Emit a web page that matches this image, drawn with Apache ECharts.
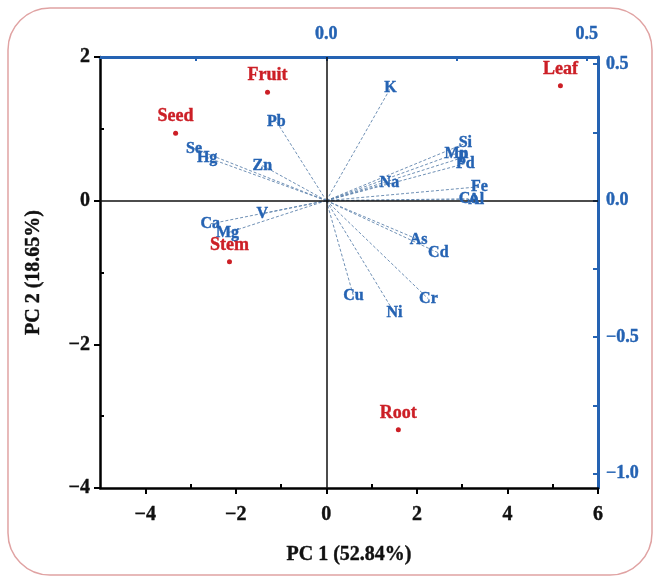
<!DOCTYPE html>
<html>
<head>
<meta charset="utf-8">
<script src="https://cdn.jsdelivr.net/npm/echarts@6/dist/echarts.min.js"></script>
<style>
  html, body { margin: 0; padding: 0; background: #ffffff; }
  #main { width: 656px; height: 579px; }
</style>
</head>
<body>
<div id="main"></div>
<script>
// sample scores (PC1, PC2)
var sampleNames = ['Leaf', 'Fruit', 'Seed', 'Stem', 'Root'];
var samplePC1 = [5.17, -1.30, -3.33, -2.14, 1.59];
var samplePC2 = [1.60, 1.51, 0.94, -0.85, -3.19];

// element loadings (top / right axes)
var elementNames = ['K', 'Pb', 'Se', 'Hg', 'Zn', 'Na', 'Si', 'Mn', 'P', 'Pd', 'Fe', 'Co', 'Al',
                    'V', 'Ca', 'Mg', 'As', 'Cd', 'Cu', 'Ni', 'Cr'];
var loadPC1 = [0.123, -0.096, -0.254, -0.229, -0.123, 0.121, 0.267, 0.250, 0.262, 0.267, 0.294, 0.273, 0.288,
               -0.123, -0.223, -0.190, 0.177, 0.215, 0.052, 0.131, 0.196];
var loadPC2 = [0.412, 0.290, 0.191, 0.158, 0.129, 0.066, 0.210, 0.173, 0.158, 0.136, 0.051, 0.007, 0.004,
               -0.048, -0.085, -0.118, -0.143, -0.191, -0.349, -0.412, -0.360];

// tick labels
var pc1Ticks = [-4, -2, 0, 2, 4, 6];
var pc1Minor = [-3, -1, 1, 3, 5];
var pc2Ticks = [-4, -2, 0, 2];
var pc2Minor = [-3, -1, 1];
var topTicks = [0, 0.5];
var topMinor = [-0.25, 0, 0.25, 0.5];
var rightTicks = [-1, -0.5, 0, 0.5];
var rightMinor = [-1, -0.75, -0.5, -0.25, 0, 0.25, 0.5];

var serif = 'Liberation Serif';
var blue = '#2563b3';
var red = '#cc1f26';

function minus(v) { return String(v).replace('-', '\u2212'); }
function minus1(v) { return minus(Number(v).toFixed(1)); }

var myChart = echarts.init(document.getElementById('main'));

var sampleData = sampleNames.map(function (n, i) {
	return { name: n, value: [samplePC1[i], samplePC2[i]] };
});
var elementData = elementNames.map(function (n, i) {
	return { name: n, value: [loadPC1[i], loadPC2[i]] };
});
var elementLines = elementNames.map(function (n, i) {
	return { coords: [[0, 0], [loadPC1[i], loadPC2[i]]] };
});

var tickFont = { color: '#111', fontFamily: serif, fontWeight: 'bold', fontSize: 20, textBorderColor: '#111', textBorderWidth: 0.4 };
var blueFont = { color: blue, fontFamily: serif, fontWeight: 'bold', fontSize: 18, textBorderColor: blue, textBorderWidth: 0.4 };

var option = {
	animation: false,
	graphic: [{
		type: 'rect',
		shape: { x: 8, y: 8, width: 644, height: 567, r: 42 },
		style: { fill: 'none', stroke: '#e0a3a3', lineWidth: 1.5 },
		silent: true
	}],
	grid: { left: 100, right: 58, top: 57, bottom: 91 },
	xAxis: [
		{
			type: 'value', position: 'bottom', min: -5, max: 6,
			name: 'PC 1 (52.84%)', nameLocation: 'middle', nameGap: 57,
			nameTextStyle: { color: '#111', fontFamily: serif, fontWeight: 'bold', fontSize: 20, textBorderColor: '#111', textBorderWidth: 0.4 },
			axisLine: { show: true, onZero: false, lineStyle: { color: '#000', width: 2.5 } },
			axisTick: { show: true, customValues: pc1Ticks, length: 6, lineStyle: { color: '#000', width: 2 } },
			axisLabel: Object.assign({ customValues: pc1Ticks, margin: 17, formatter: minus }, tickFont),
			splitLine: { show: false }
		},
		{
			type: 'value', position: 'top', min: -5 / 11.5, max: 6 / 11.5,
			axisLine: { show: true, onZero: false, lineStyle: { color: blue, width: 3 } },
			axisTick: { show: true, inside: true, customValues: topMinor, length: 4, lineStyle: { color: blue, width: 2 } },
			axisLabel: Object.assign({ customValues: topTicks, margin: 14, formatter: minus1 }, blueFont),
			splitLine: { show: false }
		},
		{
			type: 'value', position: 'bottom', min: -5, max: 6,
			axisLine: { show: false, onZero: false },
			axisTick: { show: true, inside: true, customValues: pc1Minor, length: 4, lineStyle: { color: '#000', width: 2 } },
			axisLabel: { show: false },
			splitLine: { show: false }
		}
	],
	yAxis: [
		{
			type: 'value', position: 'left', min: -4, max: 2,
			name: 'PC 2 (18.65%)', nameLocation: 'middle', nameGap: 56, nameRotate: 90,
			nameTextStyle: { color: '#111', fontFamily: serif, fontWeight: 'bold', fontSize: 20, textBorderColor: '#111', textBorderWidth: 0.4 },
			axisLine: { show: true, onZero: false, lineStyle: { color: '#000', width: 2.5 } },
			axisTick: { show: true, customValues: pc2Ticks, length: 6, lineStyle: { color: '#000', width: 2 } },
			axisLabel: Object.assign({ customValues: pc2Ticks, margin: 10, formatter: minus }, tickFont),
			splitLine: { show: false }
		},
		{
			type: 'value', position: 'right', min: -4 / 3.8, max: 2 / 3.8,
			axisLine: { show: true, onZero: false, lineStyle: { color: blue, width: 3 } },
			axisTick: { show: true, inside: true, customValues: rightMinor, length: 5, lineStyle: { color: blue, width: 2 } },
			axisLabel: Object.assign({ customValues: rightTicks, margin: 8, formatter: minus1 }, blueFont),
			splitLine: { show: false }
		},
		{
			type: 'value', position: 'left', min: -4, max: 2,
			axisLine: { show: false, onZero: false },
			axisTick: { show: true, inside: true, customValues: pc2Minor, length: 4, lineStyle: { color: '#000', width: 2 } },
			axisLabel: { show: false },
			splitLine: { show: false }
		}
	],
	series: [
		{
			name: 'loading lines',
			type: 'lines',
			coordinateSystem: 'cartesian2d',
			xAxisIndex: 1, yAxisIndex: 1,
			symbol: 'none',
			silent: true,
			lineStyle: { color: '#5f83ad', width: 0.9, type: [3, 2], opacity: 1 },
			data: elementLines,
			z: 3
		},
		{
			name: 'loadings',
			type: 'scatter',
			xAxisIndex: 1, yAxisIndex: 1,
			symbolSize: 0,
			itemStyle: { opacity: 1 },
			label: {
				show: true, position: 'inside', formatter: '{b}',
				color: blue, fontFamily: serif, fontWeight: 'bold', fontSize: 16,
				textBorderColor: blue, textBorderWidth: 0.4
			},
			data: elementData,
			z: 5
		},
		{
			name: 'samples',
			type: 'scatter',
			xAxisIndex: 0, yAxisIndex: 0,
			symbolSize: 5,
			itemStyle: { color: red, opacity: 1 },
			label: {
				show: true, position: 'top', distance: 5, formatter: '{b}',
				color: red, fontFamily: serif, fontWeight: 'bold', fontSize: 18,
				textBorderColor: red, textBorderWidth: 0.4
			},
			markLine: {
				silent: true, symbol: 'none',
				label: { show: false },
				lineStyle: { color: '#111', width: 1.5, type: 'solid' },
				data: [{ xAxis: 0 }, { yAxis: 0 }]
			},
			data: sampleData,
			z: 6
		}
	]
};
myChart.setOption(option);
</script>
</body>
</html>
